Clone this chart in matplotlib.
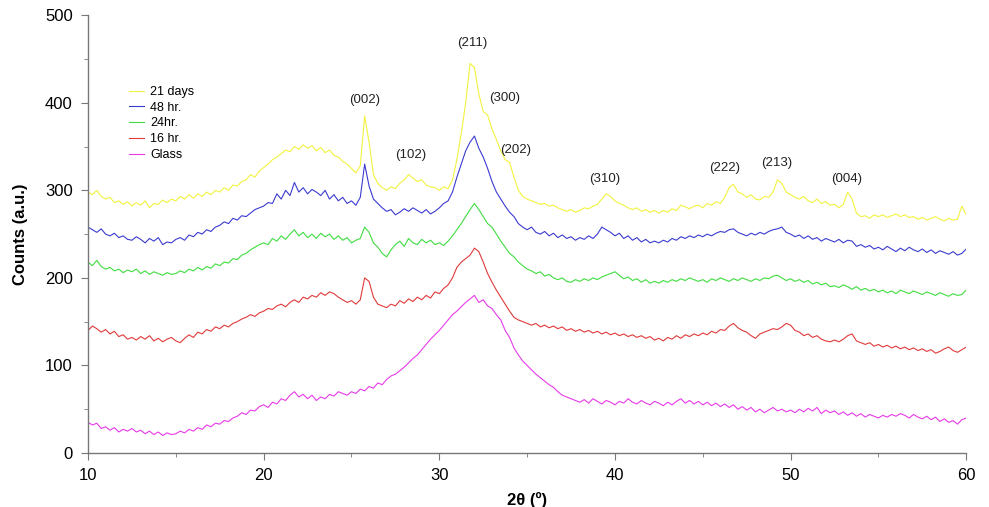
import numpy as np
import matplotlib
matplotlib.use("Agg")
import matplotlib.pyplot as plt
from matplotlib.ticker import MultipleLocator

plt.rcParams['font.family'] = ['Liberation Sans', 'DejaVu Sans']

two_theta = np.round(np.arange(10.0, 60.0001, 0.25), 2)

days21 = [
    298, 295, 300, 293, 290, 292, 286, 288, 284, 287,
    282, 286, 283, 288, 280, 285, 284, 289, 286, 290,
    288, 293, 290, 295, 291, 296, 293, 298, 295, 300,
    298, 303, 300, 306, 305, 310, 312, 318, 315, 322,
    326, 330, 335, 338, 342, 346, 344, 350, 347, 352,
    348, 351, 345, 349, 343, 346, 340, 338, 333, 330,
    325, 320, 328, 385, 355, 318, 308, 303, 300, 304,
    302, 308, 312, 318, 314, 310, 312, 306, 304, 303,
    300, 304, 302, 312, 335, 365, 400, 445, 440, 410,
    390, 386, 370, 358, 345, 335, 332, 315, 300, 293,
    290, 288, 286, 284, 285, 282, 283, 280, 278, 276,
    278, 275, 277, 280, 279, 282, 284, 290, 296, 293,
    288, 285, 283, 280, 278, 280, 276, 278, 275, 277,
    274, 277, 275, 279, 277, 283, 281, 279, 282, 283,
    280, 285, 283, 287, 285, 292, 303, 307, 298, 296,
    292, 295, 290, 289, 293, 292, 298, 312, 308, 298,
    295, 292, 290, 293, 288, 286, 290, 285, 287, 283,
    284, 280, 284, 298, 290, 274, 270, 271, 268, 272,
    270, 272, 269, 271, 273, 270, 272, 269, 270, 267,
    269, 266, 268, 270, 267, 265, 268, 266, 267, 282,
    272,
]

hr48 = [
    258, 255, 252, 256, 250, 248, 251, 246, 248, 244,
    243, 247, 244, 240, 245, 242, 246, 238, 241, 240,
    244, 246, 243, 249, 247, 252, 250, 255, 253, 258,
    260, 264, 262, 268, 266, 271, 270, 274, 278, 280,
    282, 286, 285, 296, 290, 300, 294, 309, 298, 303,
    296, 301, 298, 294, 300, 290, 295, 288, 292, 285,
    288, 283, 292, 330, 305, 290, 285, 280, 276, 278,
    272, 275, 279, 276, 280, 277, 274, 278, 273, 276,
    280, 285, 288, 298, 315, 330, 345, 355, 362, 348,
    338, 325, 310, 298, 290, 282, 275, 270, 262, 258,
    255, 258, 252, 250, 253, 248, 251, 246, 249, 245,
    247, 243, 246, 244, 248, 245, 250, 258, 255, 252,
    248, 251, 245, 248, 243, 246, 241, 244, 240, 242,
    240, 243, 241, 245, 243, 247, 245, 248, 246, 249,
    247, 250, 248, 251, 253, 252, 255, 256, 252, 250,
    248, 251, 249, 252, 250, 253, 255, 256, 258, 252,
    250, 247, 249, 245, 248, 244, 246, 242, 245, 243,
    241, 244, 240, 243, 242, 236, 238, 235, 237, 233,
    235, 232, 236, 233, 230, 234, 231, 235, 232, 230,
    233, 229, 232, 228, 231, 229, 227, 230, 226, 228,
    233,
]

hr24 = [
    218, 214, 220, 213, 210, 212, 208, 210, 206, 209,
    207, 210, 205, 208, 204, 207, 205, 203, 206, 204,
    205, 208, 206, 210, 208, 212, 209, 213, 211, 216,
    214, 218, 217, 222, 221, 226, 228, 232, 235, 238,
    240, 238, 245, 242, 248, 244, 250, 255, 248, 252,
    246, 250, 245, 251, 247, 250, 244, 248, 243, 246,
    240, 243, 245, 258, 252, 240, 235, 228, 224, 232,
    238, 242, 236, 245, 240, 238, 244, 240, 243, 238,
    240, 237, 242, 248, 255, 262, 270, 278, 285, 278,
    270, 262, 258, 250, 242, 235, 228, 224, 218, 214,
    210, 208, 205, 207, 202, 204, 200, 198, 200, 196,
    195, 198, 196, 199, 197, 200, 198, 201, 203, 205,
    207, 203, 199, 201, 197, 199, 195, 198, 194, 196,
    194, 197, 195, 198, 196, 199, 197, 200, 198, 196,
    198, 195, 199, 197, 200, 198, 196, 199, 197, 200,
    198, 196, 199, 197, 200, 199, 202, 203, 200, 197,
    199, 196, 198, 195, 197, 193, 195, 192, 194, 190,
    191, 189, 192, 190, 187, 190, 186, 188, 185, 187,
    184, 186, 183, 185, 182, 186, 184, 182, 185, 183,
    181, 184, 182, 180, 183, 181, 179, 182, 180, 181,
    186,
]

hr16 = [
    140, 145, 142, 138, 141, 136, 139, 133, 135, 130,
    132, 129, 133, 130, 134, 128, 131, 127, 130, 132,
    128, 126, 131, 135, 132, 138, 136, 141, 139, 144,
    142, 146, 144, 148, 150, 153, 155, 158, 156, 160,
    162, 165, 164, 168, 170, 167, 172, 175, 172, 178,
    176, 180, 178, 183, 180, 184, 182, 178, 175, 172,
    174, 170, 175, 200, 196, 178, 170, 168, 166, 170,
    168, 174, 171, 176, 173, 178, 175, 180, 177, 184,
    182, 188, 192, 200, 212, 218, 222, 226, 234, 230,
    218, 205, 195, 186, 178, 170, 162, 155, 152, 150,
    148, 146, 148, 144, 146, 143, 145, 142, 144, 140,
    142, 139, 141, 138, 140, 137, 139, 136, 138, 135,
    137, 134, 136, 133, 135, 132, 134, 131, 133, 129,
    131, 128, 132, 130, 134, 131, 135, 133, 136, 134,
    137, 135, 139, 137, 141, 140, 145, 148, 143, 140,
    138, 134, 131, 136, 138, 140, 142, 141, 144, 148,
    146, 140, 138, 134, 136, 132, 134, 130, 128, 127,
    129, 127, 130, 134, 136, 128, 126, 124, 126, 122,
    124, 121, 123, 120, 122, 119, 121, 118, 120, 117,
    119, 116, 118, 114, 116, 119, 121, 117, 115, 118,
    121,
]

glass = [
    35, 32, 34, 28, 30, 26, 29, 24, 27, 25,
    28, 24, 26, 22, 25, 21, 24, 20, 23, 21,
    22, 25, 23, 27, 25, 29, 27, 32, 30, 34,
    33, 37, 36, 40, 42, 46, 44, 49, 48, 53,
    55, 52, 58, 56, 62, 60, 66, 70, 64, 67,
    62, 66, 60, 64, 62, 67, 65, 70, 68, 66,
    70, 68, 73, 71, 76, 74, 80, 78, 84, 88,
    90, 94, 98, 103, 108, 112, 118, 124, 130, 135,
    140, 146, 152, 158, 162, 167, 172, 176, 180, 172,
    175, 168, 165, 158, 152, 140, 132, 120, 112, 105,
    100, 95, 90, 86, 82, 78, 75, 70, 66, 64,
    62, 60, 58, 61, 57, 62, 59, 56, 60, 58,
    55, 59, 57, 62, 58, 56, 60, 57, 55, 59,
    57, 54, 58, 55, 59, 62, 57, 60, 56, 59,
    55, 58, 54, 57, 53, 56, 52, 55, 50, 53,
    49, 52, 47, 50, 46, 49, 52, 48, 50, 47,
    49, 46, 50, 47, 51, 48, 52, 45, 49, 46,
    48, 44, 47, 43, 46, 42, 45, 41, 44, 42,
    40, 43, 41, 44, 42, 45, 43, 40, 44, 41,
    39, 42, 38, 41, 36, 39, 35, 37, 33, 38,
    40,
]

series_labels = ["21 days", "48 hr.", "24hr.", "16 hr.", "Glass"]
series_colors = ["#f2f240", "#3b3bd0", "#40dd40", "#e03a3a", "#e83ae8"]

peak_labels = ["(002)", "(102)", "(211)", "(300)", "(202)", "(310)", "(222)", "(213)", "(004)"]
peak_x = [25.77, 28.39, 31.87, 33.69, 34.37, 39.44, 46.22, 49.23, 53.17]
peak_y = [403, 340, 468, 406, 346, 313, 326, 331, 313]

fig = plt.figure(figsize=(9.89, 5.07), dpi=100)
ax = fig.add_axes([0.089, 0.1065, 0.888, 0.8635])

for ys, lab, col in zip([days21, hr48, hr24, hr16, glass], series_labels, series_colors):
    ax.plot(two_theta, ys, color=col, lw=0.8, label=lab)

for t, px, py in zip(peak_labels, peak_x, peak_y):
    ax.text(px, py, t, ha='center', va='center', fontsize=9.5, color='#222222')

ax.set_xlim(10, 60)
ax.set_ylim(0, 500)
ax.xaxis.set_major_locator(MultipleLocator(10))
ax.xaxis.set_minor_locator(MultipleLocator(5))
ax.yaxis.set_major_locator(MultipleLocator(100))
ax.yaxis.set_minor_locator(MultipleLocator(50))
for s in ['top', 'right']:
    ax.spines[s].set_visible(False)
for s in ['left', 'bottom']:
    ax.spines[s].set_color('#777777')
    ax.spines[s].set_linewidth(1.0)
ax.tick_params(which='major', direction='out', length=5, color='#777777', labelsize=12, pad=6)
ax.tick_params(which='minor', direction='out', length=3, color='#777777')

ax.set_xlabel("2θ (º)", fontsize=12, fontweight='bold', labelpad=6)
ax.set_ylabel("Counts (a.u.)", fontsize=12, fontweight='bold', labelpad=12)

leg = ax.legend(loc='upper left', bbox_to_anchor=(0.041, 0.85), frameon=False, fontsize=9,
                handlelength=1.2, handletextpad=0.5, labelspacing=0.3, borderaxespad=0)

fig.savefig("out.png", dpi=100)
